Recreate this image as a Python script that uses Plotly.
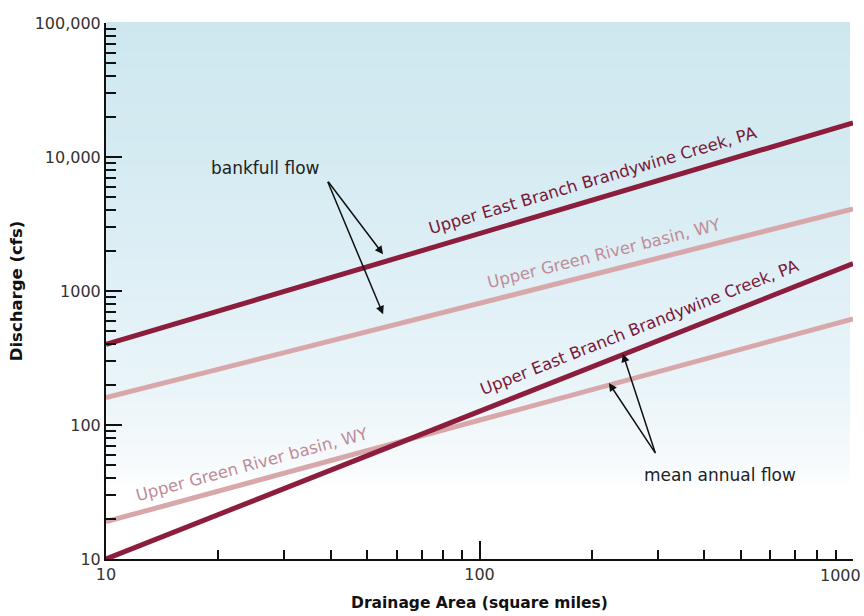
import numpy as np
import plotly.graph_objects as go

# ---------------- data ----------------
drainage_area = [10, 1000]            # square miles
bankfull_pa = [400, 18000]            # cfs
bankfull_wy = [160, 4100]
mean_pa = [10, 1600]
mean_wy = [19, 620]

label_pa = "Upper East Branch Brandywine Creek, PA"
label_wy = "Upper Green River basin, WY"

x_tickvals = [10, 100, 1000]
x_ticktext = ["10", "100", ""]          # last label is placed separately (edge)
x_last_label = "1000"
y_tickvals = [10, 100, 1000, 10000, 100000]
y_ticktext = ["10", "100", "1000", "10,000", "100,000"]
x_minor = [20, 30, 40, 50, 60, 70, 80, 90, 200, 300, 400, 500, 600, 700, 800, 900]
y_minor = [m * d for d in [10, 100, 1000, 10000] for m in range(2, 10)]

# ---------------- styles ----------------
DARK = "#8c1d3d"
LIGHT = "#d8a7aa"
DARK_TXT = "#7a1838"
LIGHT_TXT = "#c08c97"
FONT = "DejaVu Sans"

W, H = 864, 616
ML, MR, MT, MB = 106, 11, 23, 57
PW, PH = W - ML - MR, H - MT - MB
XDEC = PW / 2.0   # px per decade (x)
YDEC = PH / 4.0   # px per decade (y)

fig = go.Figure()
series = [
    (bankfull_pa, DARK, "bankfull PA"),
    (bankfull_wy, LIGHT, "bankfull WY"),
    (mean_wy, LIGHT, "mean WY"),
    (mean_pa, DARK, "mean PA"),
]
for vals, col, nm in series:
    fig.add_trace(go.Scatter(x=drainage_area, y=vals, mode="lines", name=nm,
                             line=dict(color=col, width=5), showlegend=False,
                             hoverinfo="skip"))

# background gradient (light blue at top to white near bottom)
stops = [(0.0, (206, 231, 239)), (0.25, (213, 235, 242)), (0.5, (224, 240, 246)),
         (0.7, (235, 245, 249)), (0.82, (246, 250, 252)), (0.87, (255, 255, 255)),
         (1.0, (255, 255, 255))]
def grad(t):
    for (t0, c0), (t1, c1) in zip(stops[:-1], stops[1:]):
        if t0 <= t <= t1:
            f = (t - t0) / (t1 - t0) if t1 > t0 else 0
            return tuple(int(round(a + (b - a) * f)) for a, b in zip(c0, c1))
    return stops[-1][1]
n = 90
shapes = []
for i in range(n):
    t0, t1 = i / n, (i + 1) / n
    c = grad((t0 + t1) / 2)
    shapes.append(dict(type="rect", xref="paper", yref="paper", x0=0, x1=0.996,
                       y0=1 - t1, y1=1 - t0 + 0.002, fillcolor="rgb(%d,%d,%d)" % c,
                       line=dict(width=0), layer="below"))

def line_y(vals, x):
    lx = np.log10(drainage_area)
    ly = np.log10(vals)
    return np.interp(np.log10(x), lx, ly)

def angle(vals):
    s = (np.log10(vals[1]) - np.log10(vals[0])) / (np.log10(drainage_area[1]) - np.log10(drainage_area[0]))
    return np.degrees(np.arctan(s * YDEC / XDEC))

annotations = []
for vals, txt, col, xpos, d in [
    (bankfull_pa, label_pa, DARK_TXT, 208, 19),
    (bankfull_wy, label_wy, LIGHT_TXT, 222, 18),
    (mean_pa, label_pa, DARK_TXT, 280, 19),
    (mean_wy, label_wy, LIGHT_TXT, 25.3, 17),
]:
    a = angle(vals)
    ar = np.radians(a)
    annotations.append(dict(x=np.log10(xpos), y=line_y(vals, xpos), xref="x", yref="y",
                            text=txt, showarrow=False, textangle=-a,
                            xshift=-d * np.sin(ar), yshift=d * np.cos(ar),
                            font=dict(family=FONT, size=16.5, color=col)))

# edge tick label for 1000 (kept inside the page)
annotations.append(dict(x=np.log10(x_tickvals[-1]), y=0, xref="x", yref="paper",
                        text=x_last_label, showarrow=False, xanchor="right",
                        yanchor="top", xshift=10, yshift=-5,
                        font=dict(family=FONT, size=16, color="#333")))

# callouts
annotations.append(dict(x=np.log10(26.7), y=np.log10(8280), xref="x", yref="y",
                        text="bankfull flow", showarrow=False,
                        font=dict(family=FONT, size=17, color="#222")))
for tx, ty, ax, ay in [(55.2, 1880, -56, -74), (55.2, 670, -56, -134)]:
    annotations.append(dict(x=np.log10(tx), y=np.log10(ty), xref="x", yref="y",
                            ax=ax, ay=ay, showarrow=True, arrowhead=2, arrowsize=1.1,
                            arrowwidth=1.5, arrowcolor="#111", text=""))
annotations.append(dict(x=np.log10(440), y=np.log10(42), xref="x", yref="y",
                        text="mean annual flow", showarrow=False,
                        font=dict(family=FONT, size=17, color="#222")))
for tx, ty, ax, ay in [(242, 340, 33, 101), (222, 206, 47, 71)]:
    annotations.append(dict(x=np.log10(tx), y=np.log10(ty), xref="x", yref="y",
                            ax=ax, ay=ay, showarrow=True, arrowhead=2, arrowsize=1.1,
                            arrowwidth=1.5, arrowcolor="#111", text=""))

fig.update_layout(
    width=W, height=H, margin=dict(l=ML, r=MR, t=MT, b=MB, autoexpand=False),
    paper_bgcolor="white", plot_bgcolor="white",
    shapes=shapes, annotations=annotations,
    font=dict(family=FONT, size=16, color="#333"),
)
fig.update_xaxes(
    type="log", range=[1, 3], showgrid=False, zeroline=False,
    showline=True, linecolor="#111", linewidth=2,
    tickmode="array", tickvals=x_tickvals, ticktext=x_ticktext,
    ticks="inside", ticklen=18, tickwidth=2, tickcolor="#111",
    tickfont=dict(family=FONT, size=16, color="#333"),
    minor=dict(tickmode="array", tickvals=x_minor, ticks="inside", ticklen=9,
               tickwidth=1.5, tickcolor="#111", showgrid=False),
    title=dict(text="<b>Drainage Area (square miles)</b>", standoff=14,
               font=dict(family=FONT, size=15.5, color="#111")),
)
fig.update_yaxes(
    type="log", range=[1, 5], showgrid=False, zeroline=False,
    showline=True, linecolor="#111", linewidth=2,
    tickmode="array", tickvals=y_tickvals, ticktext=y_ticktext,
    ticks="inside", ticklen=16, tickwidth=2, tickcolor="#111",
    ticklabeloverflow="allow",
    tickfont=dict(family=FONT, size=16, color="#333"),
    minor=dict(tickmode="array", tickvals=y_minor, ticks="inside", ticklen=10,
               tickwidth=1.5, tickcolor="#111", showgrid=False),
    title=dict(text="<b>Discharge (cfs)</b>", standoff=8,
               font=dict(family=FONT, size=16.5, color="#111")),
)

fig.write_html("out.html")
